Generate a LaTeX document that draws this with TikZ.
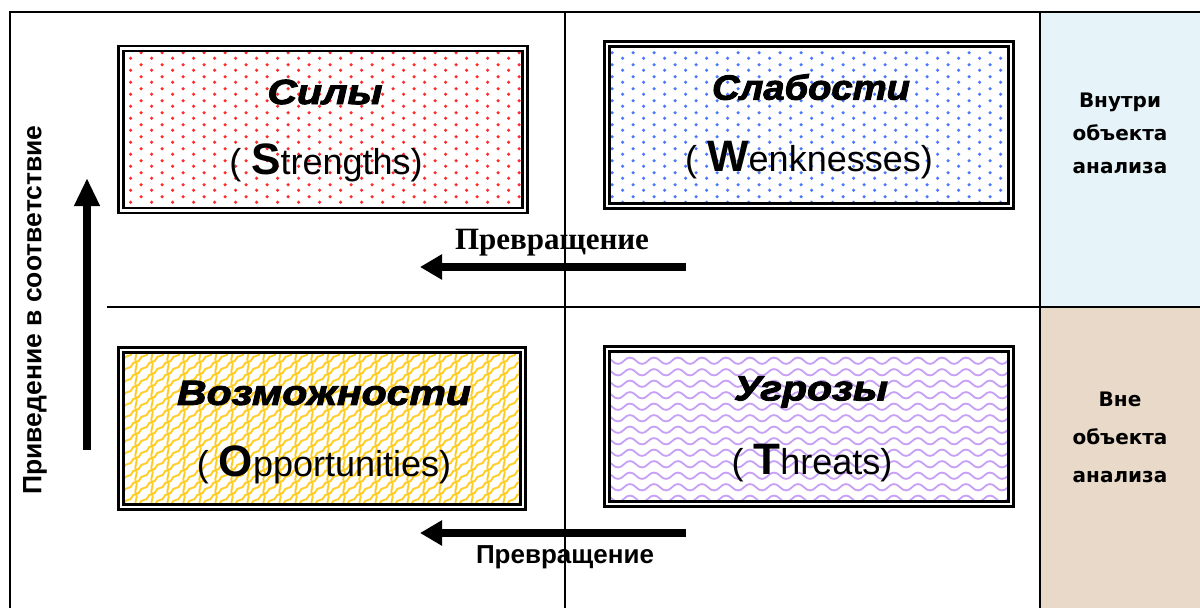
\documentclass[tikz,border=0pt]{standalone}
\usepackage{fontspec}
\setmainfont{Liberation Sans}
\newfontfamily\serifb{Liberation Serif}
\newfontfamily\verd{DejaVu Sans}
\newfontfamily\heavy[BoldItalicFeatures={FakeBold=2.5}]{Liberation Sans}
\usepackage{graphicx}
\usetikzlibrary{patterns,arrows.meta}

\pgfdeclarepatternformonly{sdots}{\pgfqpoint{0pt}{0pt}}{\pgfqpoint{21.4pt}{11.5pt}}{\pgfqpoint{21.4pt}{11.5pt}}{%
  \pgfpathcircle{\pgfqpoint{2.7pt}{2.9pt}}{1.8pt}%
  \pgfpathcircle{\pgfqpoint{13.4pt}{8.6pt}}{1.8pt}%
  \pgfusepath{fill}}

\pgfdeclarepatternformonly{shingle}{\pgfqpoint{-2pt}{-8pt}}{\pgfqpoint{18pt}{14pt}}{\pgfqpoint{16pt}{12pt}}{%
  \pgfsetlinewidth{1.9pt}%
  \pgfpathmoveto{\pgfqpoint{0pt}{0pt}}%
  \pgfpathcurveto{\pgfqpoint{5pt}{0pt}}{\pgfqpoint{3pt}{6pt}}{\pgfqpoint{8pt}{6pt}}%
  \pgfpathcurveto{\pgfqpoint{13pt}{6pt}}{\pgfqpoint{11pt}{12pt}}{\pgfqpoint{16pt}{12pt}}%
  \pgfpathmoveto{\pgfqpoint{8pt}{6pt}}%
  \pgfpathcurveto{\pgfqpoint{10.5pt}{3pt}}{\pgfqpoint{5.5pt}{-3pt}}{\pgfqpoint{8pt}{-6pt}}%
  \pgfusepath{stroke}}

\pgfdeclarepatternformonly{waves}{\pgfqpoint{-1pt}{0pt}}{\pgfqpoint{25pt}{11.5pt}}{\pgfqpoint{24pt}{11.5pt}}{%
  \pgfsetlinewidth{1.8pt}%
  \pgfpathmoveto{\pgfqpoint{0pt}{5.75pt}}%
  \pgfpathcurveto{\pgfqpoint{4pt}{10pt}}{\pgfqpoint{8pt}{10pt}}{\pgfqpoint{12pt}{5.75pt}}%
  \pgfpathcurveto{\pgfqpoint{16pt}{1.5pt}}{\pgfqpoint{20pt}{1.5pt}}{\pgfqpoint{24pt}{5.75pt}}%
  \pgfusepath{stroke}}

\definecolor{inblue}{HTML}{E6F3F8}
\definecolor{outbeige}{HTML}{E8D9C9}
\definecolor{dotred}{HTML}{FF2A2A}
\definecolor{dotblue}{HTML}{4A78FF}
\definecolor{scyel}{HTML}{FFCC22}
\definecolor{wvpur}{HTML}{C7A0F5}

\tikzset{
  frame/.style={draw=black, line width=1.5pt},
  swbox/.style={draw=black, line width=2.4pt, double=white, double distance=2.6pt,
    inner sep=0pt, minimum width=404pt, minimum height=162pt},
  ttl/.style={font=\heavy\bfseries\itshape\fontsize{35}{38}\selectfont, inner sep=0pt},
  sub/.style={font=\fontsize{36}{40}\selectfont, inner sep=0pt},
  bigarrow/.style={line width=8pt, -{Triangle[length=22pt,width=24pt]}},
  side/.style={align=center, font=\verd\bfseries\fontsize{20}{33}\selectfont, inner sep=0pt},
}

\begin{document}
\begin{tikzpicture}[x=1pt,y=-1pt]
\useasboundingbox (0,0) rectangle (1200,608);

% right panel
\fill[inblue] (1040,12) rectangle (1200,307);
\fill[outbeige] (1040,307) rectangle (1200,608);

% frame lines
\draw[frame] (10,608) -- (10,12) -- (1200,12);
\draw[frame] (565,12) -- (565,608);
\draw[frame] (107,307) -- (1200,307);
\draw[frame] (1040,12) -- (1040,608);

% boxes
\node[swbox, pattern=sdots, pattern color=dotred] (S) at (323,129.5) {};
\node[swbox, pattern=sdots, pattern color=dotblue] (W) at (809,125) {};
\node[swbox, pattern=shingle, pattern color=scyel, minimum width=402pt, minimum height=157pt] (O) at (322,428.5) {};
\node[swbox, pattern=waves, pattern color=wvpur, minimum height=155pt] (T) at (809,426.5) {};

% titles
\node[ttl] (St) at (325,92) {\scalebox{1.17}[1]{Силы}};
\node[ttl] (Wt) at (811,87) {\scalebox{1.09}[1]{Слабости}};
\node[ttl] (Ot) at (324,393) {\scalebox{1.17}[1]{Возможности}};
\node[ttl] (Tt) at (811,392) {\scalebox{1.17}[1]{Угрозы}};

% subtitles
\node[sub] (Ss) at (326,163) {( {\fontsize{44}{44}\selectfont\bfseries S}trengths)};
\node[sub] (Ws) at (809,160) {( {\fontsize{44}{44}\selectfont\bfseries W}enknesses)};
\node[sub] (Os) at (324,465) {( {\fontsize{44}{44}\selectfont\bfseries O}pportunities)};
\node[sub] (Ts) at (812,463) {( {\fontsize{44}{44}\selectfont\bfseries T}hreats)};

% arrows
\coordinate (a1s) at (686,267);
\coordinate (a1e) at (420,267);
\coordinate (a2s) at (686,533);
\coordinate (a2e) at (420,533);
\coordinate (a3s) at (87,450);
\coordinate (a3e) at (87,178);
\draw[bigarrow] (a1s) -- (a1e);
\draw[bigarrow] (a2s) -- (a2e);
\draw[line width=8pt, -{Triangle[length=28pt,width=24pt]}] (a3s) -- (a3e);

% labels
\node[font=\serifb\bfseries\fontsize{31}{34}\selectfont, inner sep=0pt] (p1) at (552,243) {Превращение};
\node[font=\bfseries\fontsize{26}{30}\selectfont, inner sep=0pt] (p2) at (565,557) {Превращение};
\node[rotate=90, font=\bfseries\fontsize{26.5}{30}\selectfont, inner sep=0pt] (pv) at (35,310) {Приведение в соответствие};

% side labels
\node[side] (in) at (1120,133) {Внутри\\объекта\\анализа};
\node[side, font=\verd\bfseries\fontsize{20}{38}\selectfont] (out) at (1120,437) {Вне\\объекта\\анализа};
\end{tikzpicture}
\end{document}
